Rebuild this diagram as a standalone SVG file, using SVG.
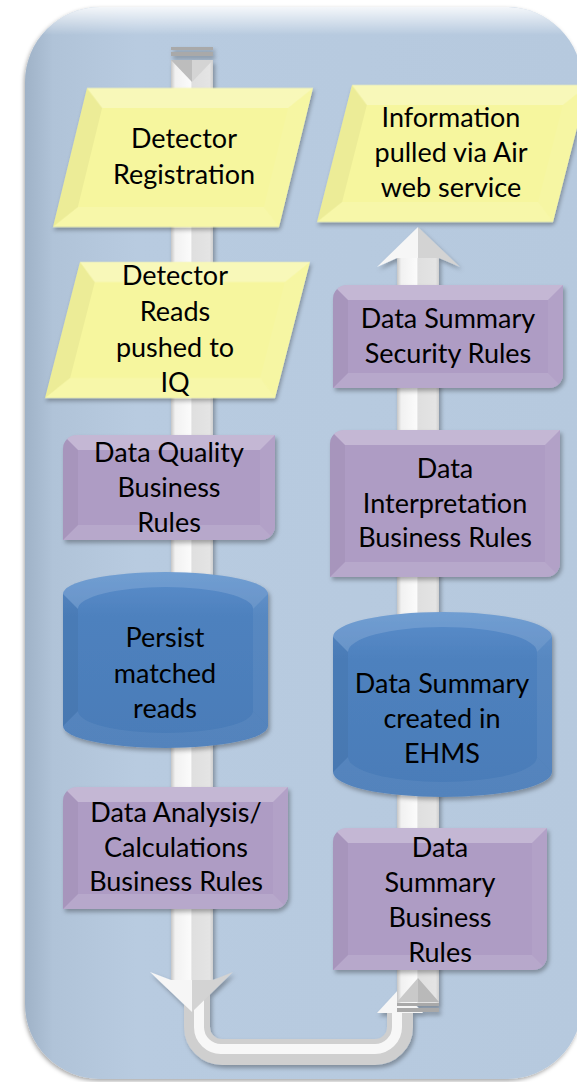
<svg xmlns="http://www.w3.org/2000/svg" width="577" height="1082" viewBox="0 0 577 1082">
<style>
.t{font-family:Lato,"Liberation Sans",sans-serif;font-size:27px;fill:#000;text-anchor:middle}
.yf{fill:#f6f69e}
.pf{fill:#ae9cc4}
.cf{fill:url(#blueFace)}
.bt{fill:#fff;fill-opacity:.28}
.bl{fill:#000;fill-opacity:.04}
.bb{fill:#fff;fill-opacity:.12}
.br{fill:#fff;fill-opacity:.06}
.ct{fill:#fff;fill-opacity:.14}
.cb{fill:#fff;fill-opacity:.06}
.shaft{fill:url(#shaftGrad)}
.stripe{fill:#a9a9a9}
.lt{fill:#f6f6f6}
.dk{fill:#d3d3d3}
</style>
<defs>
<filter id="sh" x="-15%" y="-15%" width="135%" height="135%"><feDropShadow dx="2" dy="3" stdDeviation="2.2" flood-color="#000" flood-opacity="0.3"/></filter>
<filter id="bgsh" x="-5%" y="-5%" width="110%" height="110%"><feDropShadow dx="-1" dy="2" stdDeviation="2" flood-color="#000" flood-opacity="0.35"/></filter>
<linearGradient id="bgGrad" x1="0" y1="0" x2="1" y2="0">
<stop offset="0" stop-color="#9fb2c7"/><stop offset="0.05" stop-color="#b0c3d8"/><stop offset="0.2" stop-color="#b8cbe0"/><stop offset="1" stop-color="#b6c9de"/>
</linearGradient>
<linearGradient id="bgTop" x1="0" y1="0" x2="0" y2="1">
<stop offset="0" stop-color="#fff" stop-opacity="0.85"/><stop offset="1" stop-color="#fff" stop-opacity="0"/>
</linearGradient>
<linearGradient id="shaftGrad" x1="0" y1="0" x2="1" y2="0">
<stop offset="0" stop-color="#c6c6c6"/><stop offset="0.1" stop-color="#f1f1f1"/><stop offset="0.47" stop-color="#fbfbfb"/><stop offset="0.5" stop-color="#dfdfdf"/><stop offset="0.92" stop-color="#e4e4e4"/><stop offset="1" stop-color="#cfcfcf"/>
</linearGradient>
<linearGradient id="blueFace" x1="0" y1="0" x2="0" y2="1">
<stop offset="0" stop-color="#5a8ecb"/><stop offset="0.25" stop-color="#4e81be"/><stop offset="1" stop-color="#4a7cb8"/>
</linearGradient>
<clipPath id="bgclip"><rect x="25" y="7" width="557" height="1072" rx="75"/></clipPath>
<path id="sB1" d="M77,435 H275 V526 A14,14 0 0 1 261,540 H63 V449 A14,14 0 0 1 77,435 Z"/>
<path id="sB2" d="M77,787 H288 V895 A14,14 0 0 1 274,909 H63 V801 A14,14 0 0 1 77,787 Z"/>
<path id="sB3" d="M347,285 H563 V374 A14,14 0 0 1 549,388 H333 V299 A14,14 0 0 1 347,285 Z"/>
<path id="sB4" d="M344,430 H560 V563 A14,14 0 0 1 546,577 H330 V444 A14,14 0 0 1 344,430 Z"/>
<path id="sB5" d="M347,828 H547 V956 A14,14 0 0 1 533,970 H333 V842 A14,14 0 0 1 347,828 Z"/>
<clipPath id="cB1"><use href="#sB1"/></clipPath>
<clipPath id="cB2"><use href="#sB2"/></clipPath>
<clipPath id="cB3"><use href="#sB3"/></clipPath>
<clipPath id="cB4"><use href="#sB4"/></clipPath>
<clipPath id="cB5"><use href="#sB5"/></clipPath>
</defs>

<g id="background">
<rect x="25" y="7" width="557" height="1072" rx="75" fill="url(#bgGrad)" filter="url(#bgsh)"/>
<rect x="25" y="7" width="557" height="28" fill="url(#bgTop)" clip-path="url(#bgclip)"/>
</g>

<g id="connectors" filter="url(#sh)">
<g id="u-turn">
<path d="M197,985 V1027 A25,25 0 0 0 222,1052 H375 A25,25 0 0 0 400,1027 V1008" fill="none" stroke="#cfcfcf" stroke-width="26"/>
<path d="M199,985 V1027 A22,22 0 0 0 222,1049 H375 A22,22 0 0 0 397,1027 V1008" fill="none" stroke="#f7f7f7" stroke-width="10"/>
<polygon points="377,1013 400,988 423,1013" class="lt"/>
</g>
<g id="left-arrow">
<rect x="171" y="60" width="42" height="921" class="shaft"/>
<rect x="171" y="47" width="42" height="3" class="stripe"/>
<rect x="171" y="52" width="42" height="4" class="stripe"/>
<polygon points="171,60 192,82 192,60" fill="#bdbdbd"/>
<polygon points="213,60 192,82 192,60" fill="#d4d4d4"/>
<polygon points="150,972 171,980 192,980 192,1012" class="lt"/>
<polygon points="233,972 213,980 192,980 192,1012" class="dk"/>
</g>
<g id="right-arrow">
<rect x="397" y="257" width="42" height="746" class="shaft"/>
<rect x="397" y="1003" width="42" height="3" class="stripe"/>
<rect x="397" y="1008" width="42" height="4" class="stripe"/>
<polygon points="397,1002 418,978 418,1002" fill="#c9c9c9"/>
<polygon points="439,1002 418,978 418,1002" fill="#b9b9b9"/>
<polygon points="418,227 377,267 397,258 418,258" class="lt"/>
<polygon points="418,227 460,267 439,258 418,258" class="dk"/>
</g>
</g>

<g id="n-detector-registration">
<g transform="translate(183,157.5) skewX(-13.75)" filter="url(#sh)">
<rect x="-113" y="-69.5" width="226" height="139" class="yf"/>
<polygon points="-113,-69.5 113,-69.5 93,-49.5 -93,-49.5" class="bt"/>
<polygon points="-113,69.5 113,69.5 93,49.5 -93,49.5" class="bb"/>
<polygon points="-113,-69.5 -93,-49.5 -93,49.5 -113,69.5" class="bl"/>
<polygon points="113,-69.5 93,-49.5 93,49.5 113,69.5" class="br"/>
</g>
<text class="t" x="184" y="148">Detector</text>
<text class="t" x="184" y="184">Registration</text>
</g>

<g id="n-information-pulled">
<g transform="translate(452.5,153.5) skewX(-14.3)" filter="url(#sh)">
<rect x="-118" y="-68.5" width="236" height="137" class="yf"/>
<polygon points="-118,-68.5 118,-68.5 98,-48.5 -98,-48.5" class="bt"/>
<polygon points="-118,68.5 118,68.5 98,48.5 -98,48.5" class="bb"/>
<polygon points="-118,-68.5 -98,-48.5 -98,48.5 -118,68.5" class="bl"/>
<polygon points="118,-68.5 98,-48.5 98,48.5 118,68.5" class="br"/>
</g>
<text class="t" x="451" y="127">Information</text>
<text class="t" x="451" y="162">pulled via Air</text>
<text class="t" x="451" y="197">web service</text>
</g>

<g id="n-detector-reads">
<g transform="translate(177.5,330) skewX(-14.4)" filter="url(#sh)">
<rect x="-115" y="-68" width="230" height="136" class="yf"/>
<polygon points="-115,-68 115,-68 95,-48 -95,-48" class="bt"/>
<polygon points="-115,68 115,68 95,48 -95,48" class="bb"/>
<polygon points="-115,-68 -95,-48 -95,48 -115,68" class="bl"/>
<polygon points="115,-68 95,-48 95,48 115,68" class="br"/>
</g>
<text class="t" x="175" y="285">Detector</text>
<text class="t" x="175" y="321">Reads</text>
<text class="t" x="175" y="357">pushed to</text>
<text class="t" x="175" y="392">IQ</text>
</g>

<g id="n-data-quality">
<use href="#sB1" class="pf" filter="url(#sh)"/>
<g clip-path="url(#cB1)">
<polygon points="63,435 275,435 260,450 78,450" class="bt"/>
<polygon points="63,540 275,540 260,525 78,525" class="bb"/>
<polygon points="63,435 78,450 78,525 63,540" class="bl"/>
<polygon points="275,435 260,450 260,525 275,540" class="br"/>
</g>
<text class="t" x="169" y="462">Data Quality</text>
<text class="t" x="169" y="497">Business</text>
<text class="t" x="169" y="532">Rules</text>
</g>

<g id="n-persist-matched-reads">
<path d="M63,594 A102.5,22 0 0 1 268,594 V726 A102.5,22 0 0 1 63,726 Z" class="cf" filter="url(#sh)"/>
<path d="M63,594 A102.5,22 0 0 1 268,594 L253,609 A87.5,22 0 0 0 78,609 Z" class="ct"/>
<path d="M63,726 A102.5,22 0 0 0 268,726 L253,711 A87.5,22 0 0 1 78,711 Z" class="cb"/>
<path d="M63,594 L78,609 V711 L63,726 Z" class="bl"/>
<path d="M268,594 L253,609 V711 L268,726 Z" class="br"/>
<text class="t" x="165" y="647">Persist</text>
<text class="t" x="165" y="683">matched</text>
<text class="t" x="165" y="718">reads</text>
</g>

<g id="n-data-analysis">
<use href="#sB2" class="pf" filter="url(#sh)"/>
<g clip-path="url(#cB2)">
<polygon points="63,787 288,787 273,802 78,802" class="bt"/>
<polygon points="63,909 288,909 273,894 78,894" class="bb"/>
<polygon points="63,787 78,802 78,894 63,909" class="bl"/>
<polygon points="288,787 273,802 273,894 288,909" class="br"/>
</g>
<text class="t" x="176" y="822">Data Analysis/</text>
<text class="t" x="176" y="857">Calculations</text>
<text class="t" x="176" y="891">Business Rules</text>
</g>

<g id="n-security-rules">
<use href="#sB3" class="pf" filter="url(#sh)"/>
<g clip-path="url(#cB3)">
<polygon points="333,285 563,285 548,300 348,300" class="bt"/>
<polygon points="333,388 563,388 548,373 348,373" class="bb"/>
<polygon points="333,285 348,300 348,373 333,388" class="bl"/>
<polygon points="563,285 548,300 548,373 563,388" class="br"/>
</g>
<text class="t" x="448" y="328">Data Summary</text>
<text class="t" x="448" y="363">Security Rules</text>
</g>

<g id="n-interpretation-rules">
<use href="#sB4" class="pf" filter="url(#sh)"/>
<g clip-path="url(#cB4)">
<polygon points="330,430 560,430 545,445 345,445" class="bt"/>
<polygon points="330,577 560,577 545,562 345,562" class="bb"/>
<polygon points="330,430 345,445 345,562 330,577" class="bl"/>
<polygon points="560,430 545,445 545,562 560,577" class="br"/>
</g>
<text class="t" x="445" y="478">Data</text>
<text class="t" x="445" y="513">Interpretation</text>
<text class="t" x="445" y="547">Business Rules</text>
</g>

<g id="n-summary-ehms">
<path d="M333,637 A109.5,25 0 0 1 552,637 V772 A109.5,25 0 0 1 333,772 Z" class="cf" filter="url(#sh)"/>
<path d="M333,637 A109.5,25 0 0 1 552,637 L537,652 A94.5,25 0 0 0 348,652 Z" class="ct"/>
<path d="M333,772 A109.5,25 0 0 0 552,772 L537,757 A94.5,25 0 0 1 348,757 Z" class="cb"/>
<path d="M333,637 L348,652 V757 L333,772 Z" class="bl"/>
<path d="M552,637 L537,652 V757 L552,772 Z" class="br"/>
<text class="t" x="442" y="693">Data Summary</text>
<text class="t" x="442" y="728">created in</text>
<text class="t" x="442" y="763">EHMS</text>
</g>

<g id="n-summary-business-rules">
<use href="#sB5" class="pf" filter="url(#sh)"/>
<g clip-path="url(#cB5)">
<polygon points="333,828 547,828 532,843 348,843" class="bt"/>
<polygon points="333,970 547,970 532,955 348,955" class="bb"/>
<polygon points="333,828 348,843 348,955 333,970" class="bl"/>
<polygon points="547,828 532,843 532,955 547,970" class="br"/>
</g>
<text class="t" x="440" y="857">Data</text>
<text class="t" x="440" y="892">Summary</text>
<text class="t" x="440" y="927">Business</text>
<text class="t" x="440" y="962">Rules</text>
</g>
</svg>
